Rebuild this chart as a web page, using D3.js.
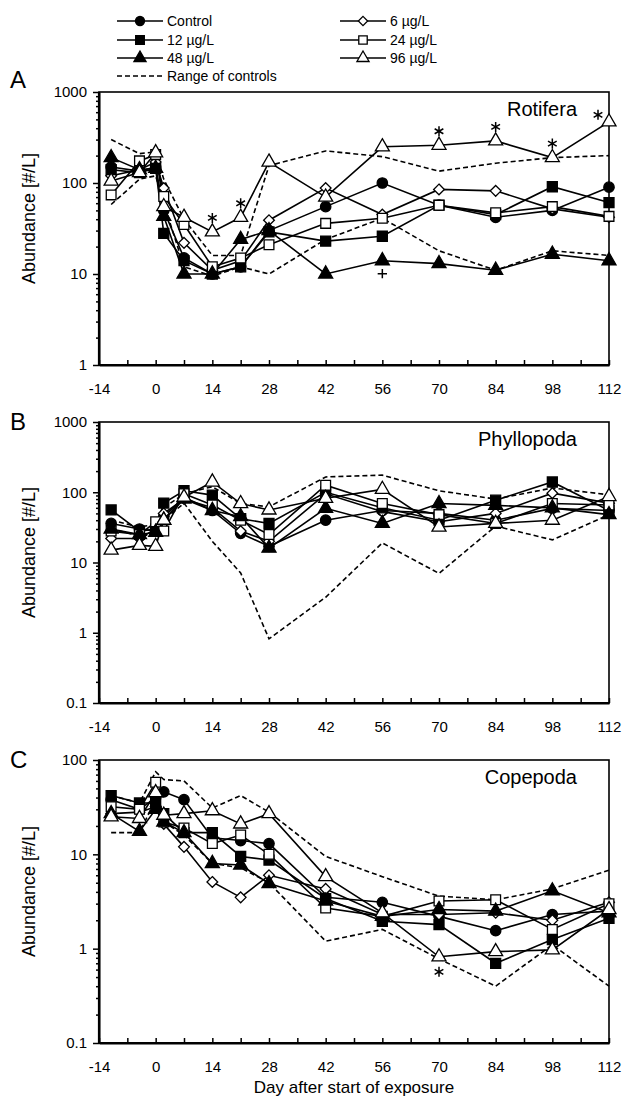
<!DOCTYPE html>
<html>
<head>
<meta charset="utf-8">
<script src="https://cdn.jsdelivr.net/npm/d3@7"></script>
<style>
body { margin: 0; background: #fff; }
text { font-family: "Liberation Sans", Arial, sans-serif; fill: #000; }
</style>
</head>
<body>
<div id="chart"></div>
<script>
// sampling days and axis ticks
var days = [-11, -4, 0, 2, 7, 14, 21, 28, 42, 56, 70, 84, 98, 112];
var xTicks = [-14, 0, 14, 28, 42, 56, 70, 84, 98, 112];
var xMinor = [-7, 7, 21, 35, 49, 63, 77, 91, 105];
var seriesNames = ["Control", "6 µg/L", "12 µg/L", "24 µg/L", "48 µg/L", "96 µg/L"];

// A - Rotifera
var rotControl = [150, 135, 150, 50, 15, 10, 12, 30, 55, 100, 57, 42, 50, 90];
var rot6 = [120, 140, 170, 88, 22, 11, 14, 39, 88, 45, 85, 82, 52, 42];
var rot12 = [140, 130, 145, 28, 14, 10, 12, 29, 23, 26, 57, 45, 91, 61];
var rot24 = [74, 175, 205, 71, 35, 12, 15, 21, 36, 41, 57, 47, 55, 43];
var rot48 = [190, 140, 145, 43, 10, 10, 24, 30, 10, 14, 13, 11, 16.5, 14];
var rot96 = [105, 130, 215, 55, 42, 29, 42, 170, 70, 250, 260, 290, 190, 470];
var rotHigh = [300, 210, 220, 110, 40, 16, 16, 155, 225, 195, 135, 165, 190, 200];
var rotLow = [58, 110, 120, 60, 12, 9.5, 12, 10, 24, 41, 18, 11, 18, 16];

// B - Phyllopoda
var phyControl = [36, 30, 28, 45, 85, 55, 26, 17, 40, 55, 50, 40, 59, 55];
var phy6 = [22, 22, 30, 50, 80, 60, 28, 20, 95, 53, 38, 50, 97, 70];
var phy12 = [56, 28, 30, 70, 105, 91, 42, 36, 100, 60, 40, 77, 140, 55];
var phy24 = [28, 25, 38, 28, 95, 66, 40, 25, 126, 69, 48, 36, 69, 66];
var phy48 = [30, 25, 27, 40, 80, 55, 45, 16, 59, 36, 69, 65, 60, 48];
var phy96 = [15, 17.5, 17, 40, 85, 140, 69, 56, 82, 110, 32, 36, 40, 87];
var phyHigh = [40, 32, 35, 60, 95, 120, 69, 62, 165, 175, 105, 80, 115, 92];
var phyLow = [30, 24, 25, 40, 70, 20, 7.1, 0.82, 3.2, 19, 7, 33, 21, 48];

// C - Copepoda
var copControl = [38, 30, 40, 46, 38, 15, 14, 13, 3.5, 3.1, 2.2, 1.55, 2.3, 2.5];
var cop6 = [27, 28, 32, 21, 12, 5.1, 3.5, 6, 4.3, 2.3, 2.3, 2.4, 2.0, 3.1];
var cop12 = [42, 35, 35, 27, 17, 17, 9.5, 8.7, 3.4, 1.95, 1.8, 0.7, 1.25, 2.1];
var cop24 = [32, 30, 58, 22, 19, 13, 16, 10, 2.7, 2.2, 3.2, 3.3, 1.6, 3.0];
var cop48 = [27, 17.5, 30, 22, 17, 8, 7.7, 4.9, 3.2, 2.2, 2.6, 2.5, 4.1, 2.4];
var cop96 = [25, 24, 45, 26, 27, 29, 21, 27, 5.8, 2.4, 0.82, 0.93, 0.97, 2.6];
var copHigh = [42, 35, 75, 62, 60, 31, 42, 28, 9.5, 5.8, 3.6, 3.3, 4.3, 6.8];
var copLow = [17, 17, 38, 22, 16, 8, 7.2, 5, 1.2, 1.6, 0.78, 0.4, 1.1, 0.4];

// significance marks (days)
var rotStars = [14, 21, 70, 84, 98, 112];   // 96 µg/L
var rotPlus = [56];                          // 48 µg/L
var copStars = [70];                         // 96 µg/L

var width = 629, height = 1097;

var svg = d3.select("#chart")
    .append("svg")
    .attr("width", width)
    .attr("height", height);

var x = d3.scaleLinear()
    .domain([-14, 112])
    .range([99, 609]);

// custom symbols so it works with any d3 v7 build
var diamond = {
    draw: function (ctx, size) {
        var r = Math.sqrt(size) * 0.62;
        ctx.moveTo(0, -r); ctx.lineTo(r, 0); ctx.lineTo(0, r); ctx.lineTo(-r, 0); ctx.closePath();
    }
};
var asterisk = {
    draw: function (ctx, size) {
        var r = Math.sqrt(size) * 0.6, t = r / 2, u = t * Math.sqrt(3);
        ctx.moveTo(0, r); ctx.lineTo(0, -r);
        ctx.moveTo(-u, -t); ctx.lineTo(u, t);
        ctx.moveTo(-u, t); ctx.lineTo(u, -t);
    }
};
var plus = {
    draw: function (ctx, size) {
        var r = Math.sqrt(size) * 0.85;
        ctx.moveTo(-r, 0); ctx.lineTo(r, 0);
        ctx.moveTo(0, r); ctx.lineTo(0, -r);
    }
};

var styles = [
    { type: d3.symbolCircle, size: 85, fill: "#000" },
    { type: diamond, size: 75, fill: "#fff" },
    { type: d3.symbolSquare, size: 100, fill: "#000" },
    { type: d3.symbolSquare, size: 95, fill: "#fff" },
    { type: d3.symbolTriangle, size: 85, fill: "#000" },
    { type: d3.symbolTriangle, size: 85, fill: "#fff" }
];

var panels = [
    { letter: "A", name: "Rotifera", top: 92, bottom: 365, domain: [1, 1000],
      series: [rotControl, rot6, rot12, rot24, rot48, rot96], high: rotHigh, low: rotLow },
    { letter: "B", name: "Phyllopoda", top: 422, bottom: 703, domain: [0.1, 1000],
      series: [phyControl, phy6, phy12, phy24, phy48, phy96], high: phyHigh, low: phyLow },
    { letter: "C", name: "Copepoda", top: 760, bottom: 1043, domain: [0.1, 100],
      series: [copControl, cop6, cop12, cop24, cop48, cop96], high: copHigh, low: copLow }
];

function fmt(d) {
    return d < 1 ? String(d) : d3.format("d")(d);
}

function drawPanel(p) {
    var y = d3.scaleLog()
        .domain(p.domain)
        .range([p.bottom, p.top]);

    var g = svg.append("g");

    // frame
    g.append("rect")
        .attr("x", x(-14))
        .attr("y", p.top)
        .attr("width", x(112) - x(-14))
        .attr("height", p.bottom - p.top)
        .attr("fill", "none")
        .attr("stroke", "#000")
        .attr("stroke-width", 1.6);

    // y axis: decades + minor ticks
    var majors = [], minors = [];
    for (var e = Math.log10(p.domain[0]); e <= Math.log10(p.domain[1]) + 1e-9; e++) {
        var base = Math.pow(10, e);
        majors.push(+base.toPrecision(3));
        if (e < Math.log10(p.domain[1]) - 1e-9) {
            for (var k = 2; k <= 9; k++) minors.push(+(base * k).toPrecision(3));
        }
    }
    g.append("g")
        .attr("transform", "translate(" + x(-14) + ",0)")
        .call(d3.axisLeft(y).tickValues(minors).tickFormat("").tickSize(3).tickSizeOuter(0))
        .call(function (a) { a.select(".domain").remove(); });
    var ya = g.append("g")
        .attr("transform", "translate(" + x(-14) + ",0)")
        .call(d3.axisLeft(y).tickValues(majors).tickFormat(fmt).tickSize(6).tickSizeOuter(0).tickPadding(6));
    ya.selectAll("text").style("font-size", "15px");

    // x axis
    var xa = g.append("g")
        .attr("transform", "translate(0," + p.bottom + ")")
        .call(d3.axisBottom(x).tickValues(xTicks).tickFormat(function (d) { return String(d); })
            .tickSize(5).tickSizeOuter(0).tickPadding(13));
    xa.selectAll(".tick line").attr("y1", -5).attr("y2", 0);
    xa.selectAll("text").style("font-size", "15px");
    g.append("g")
        .attr("transform", "translate(0," + p.bottom + ")")
        .call(d3.axisBottom(x).tickValues(xMinor).tickFormat("").tickSize(0).tickSizeOuter(0))
        .call(function (a) { a.select(".domain").remove(); })
        .selectAll(".tick line").attr("y1", -5).attr("y2", 0);

    g.selectAll(".domain").attr("stroke-width", 2);
    g.selectAll(".tick line").attr("stroke-width", 1.5);

    // heavier left / bottom axis lines
    g.append("line")
        .attr("x1", x(-14)).attr("x2", x(-14))
        .attr("y1", p.top).attr("y2", p.bottom)
        .attr("stroke", "#000").attr("stroke-width", 2.2);
    g.append("line")
        .attr("x1", x(-14)).attr("x2", x(112))
        .attr("y1", p.bottom).attr("y2", p.bottom)
        .attr("stroke", "#000").attr("stroke-width", 2.2);

    var line = d3.line()
        .x(function (d) { return x(d[0]); })
        .y(function (d) { return y(d[1]); });

    // range of controls
    [p.high, p.low].forEach(function (vals) {
        g.append("path")
            .datum(days.map(function (d, i) { return [d, vals[i]]; }))
            .attr("d", line)
            .attr("fill", "none")
            .attr("stroke", "#000")
            .attr("stroke-width", 1.6)
            .attr("stroke-dasharray", "5,3");
    });

    // series lines + markers
    p.series.forEach(function (vals, si) {
        var pts = days.map(function (d, i) { return [d, vals[i]]; });
        g.append("path")
            .datum(pts)
            .attr("d", line)
            .attr("fill", "none")
            .attr("stroke", "#000")
            .attr("stroke-width", 1.6);
    });
    p.series.forEach(function (vals, si) {
        var st = styles[si];
        g.append("g")
            .selectAll("path")
            .data(days.map(function (d, i) { return [d, vals[i]]; }))
            .enter()
            .append("path")
            .attr("transform", function (d) { return "translate(" + x(d[0]) + "," + y(d[1]) + ")"; })
            .attr("d", d3.symbol().type(st.type).size(st.size))
            .attr("fill", st.fill)
            .attr("stroke", "#000")
            .attr("stroke-width", 1.3);
    });

    // taxon name
    g.append("text")
        .attr("x", 577)
        .attr("y", p.top + 24)
        .attr("text-anchor", "end")
        .style("font-size", "20px")
        .text(p.name);

    // panel letter
    g.append("text")
        .attr("x", 10)
        .attr("y", p.top + (p.letter == "A" ? -4 : 8))
        .style("font-size", "24px")
        .text(p.letter);

    // y label
    g.append("text")
        .attr("transform", "translate(35," + ((p.top + p.bottom) / 2 - 10) + ") rotate(-90)")
        .attr("text-anchor", "middle")
        .style("font-size", "18px")
        .text("Abundance [#/L]");

    p.y = y;
    p.g = g;
}

panels.forEach(drawPanel);

// significance marks
function marks(p, list, vals, type, dy, size) {
    p.g.append("g")
        .selectAll("path")
        .data(list)
        .enter()
        .append("path")
        .attr("transform", function (d) {
            var v = vals[days.indexOf(d)];
            var dx = d == 112 ? -11 : 0;
            var ddy = d == 112 ? dy + 7 : dy;
            return "translate(" + (x(d) + dx) + "," + (p.y(v) + ddy) + ")";
        })
        .attr("d", d3.symbol().type(type).size(size))
        .attr("fill", "none")
        .attr("stroke", "#000")
        .attr("stroke-width", 1.5);
}
marks(panels[0], rotStars, rot96, asterisk, -14, 70);
marks(panels[0], rotPlus, rot48, plus, 13, 30);
marks(panels[2], copStars, cop96, asterisk, 15, 70);

// x title
svg.append("text")
    .attr("x", 354)
    .attr("y", 1093)
    .attr("text-anchor", "middle")
    .style("font-size", "17px")
    .text("Day after start of exposure");

// legend
var legRows = [21, 40, 58];
var legend = svg.append("g");
var legItems = [0, 2, 4, 1, 3, 5];
legItems.forEach(function (si, i) {
    var col = i < 3 ? 0 : 1;
    var lx = col == 0 ? 117 : 340;
    var ly = legRows[i % 3];
    legend.append("line")
        .attr("x1", lx).attr("x2", lx + 46)
        .attr("y1", ly).attr("y2", ly)
        .attr("stroke", "#000").attr("stroke-width", 1.6);
    legend.append("path")
        .attr("transform", "translate(" + (lx + 23) + "," + ly + ")")
        .attr("d", d3.symbol().type(styles[si].type).size(styles[si].size * 0.75))
        .attr("fill", styles[si].fill)
        .attr("stroke", "#000")
        .attr("stroke-width", 1.3);
    legend.append("text")
        .attr("x", lx + 50)
        .attr("y", ly + 5)
        .style("font-size", "14px")
        .text(seriesNames[si]);
});
legend.append("line")
    .attr("x1", 117).attr("x2", 163)
    .attr("y1", 76).attr("y2", 76)
    .attr("stroke", "#000").attr("stroke-width", 1.6)
    .attr("stroke-dasharray", "5,3");
legend.append("text")
    .attr("x", 167)
    .attr("y", 81)
    .style("font-size", "14px")
    .text("Range of controls");
</script>
</body>
</html>
